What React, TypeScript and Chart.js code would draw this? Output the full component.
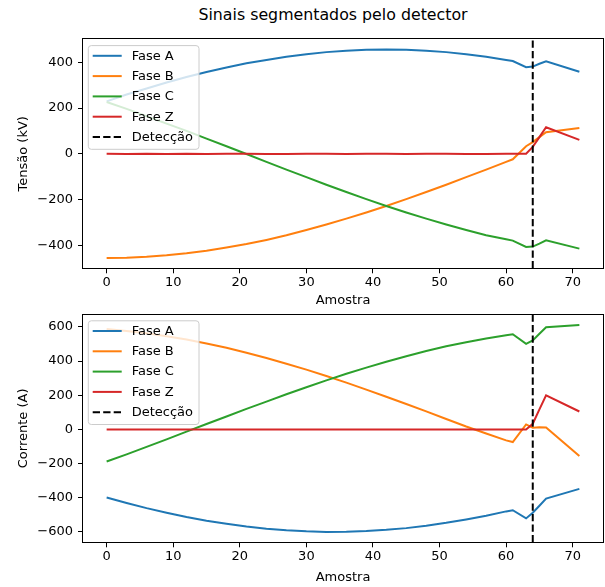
import React, { useEffect, useRef } from "react";
import { Chart, registerables } from "chart.js";

Chart.register(...registerables);

// ---- Data ----
const samples = [0, 3, 6, 9, 12, 15, 18, 21, 24, 27, 30, 33, 36, 39, 42, 45, 48, 51, 54, 57, 60, 61, 63, 64, 65, 66, 71];

// Tensão (kV)
const tensaoA = [229, 259, 285, 311, 335, 357, 377, 395, 410, 424, 435, 444, 450, 454, 455, 454, 450, 444, 435, 424, 410, 405, 378, 381, 393, 404, 358];
const tensaoB = [-455, -454, -450, -443, -434, -423, -409, -394, -376, -356, -333, -309, -283, -256, -228, -198, -167, -135, -102, -69, -35, -24, 33, 51, 73, 94, 113];
const tensaoC = [226, 196, 164, 132, 100, 66, 33, -1, -35, -69, -102, -135, -167, -198, -228, -256, -283, -309, -333, -356, -373, -379, -407, -405, -392, -378, -414];
const tensaoZ = [0, -1, 0, -1, 0, -1, 0, 0, -1, -1, 0, 0, -1, 0, 0, -1, 0, 0, -1, -1, 0, 0, 0, 30, 73, 116, 61];

// Corrente (A)
const correnteA = [-399, -431, -461, -488, -513, -535, -553, -569, -582, -591, -597, -600, -599, -595, -588, -578, -564, -547, -527, -505, -480, -473, -521, -488, -447, -405, -348];
const correnteB = [588, 577, 563, 546, 526, 503, 478, 449, 418, 385, 350, 313, 274, 233, 191, 149, 106, 61, 17, -24, -64, -74, 29, 10, 13, 12, -156];
const correnteC = [-188, -146, -102, -58, -13, 32, 76, 120, 163, 206, 247, 287, 326, 362, 396, 429, 459, 487, 511, 533, 552, 557, 501, 521, 560, 598, 612];
const correnteZ = [0, 0, 0, 0, 0, 0, 0, 0, 0, 0, 0, 0, 0, 0, 0, 0, 0, 0, 0, 0, 0, 0, 0, 33, 117, 200, 105];

const detectionSample = 64;

const seriesLabels = ["Fase A", "Fase B", "Fase C", "Fase Z"];
const detectionLabel = "Detecção";

const xTicks = [0, 10, 20, 30, 40, 50, 60, 70];
const tensaoTicks = [-400, -200, 0, 200, 400];
const correnteTicks = [-600, -400, -200, 0, 200, 400, 600];

const titleText = "Sinais segmentados pelo detector";
const xTitle = "Amostra";
const tensaoTitle = "Tensão (kV)";
const correnteTitle = "Corrente (A)";

// ---- Styling ----
const COLORS = ["#1f77b4", "#ff7f0e", "#2ca02c", "#d62728"];
const FONT = '"DejaVu Sans", "Liberation Sans", sans-serif';
const DASH = [7.3, 3.2];
const X_MIN = -3.55;
const X_MAX = 74.55;

const fmt = (v: number) => (v < 0 ? "\u2212" + Math.abs(v) : String(v));

function legendFramePlugin() {
  return {
    id: "legendFrame",
    afterDatasetsDraw(chart: any) {
      const { ctx, chartArea: a } = chart;
      ctx.save();
      // legend box
      const bx = a.left + 5.3;
      const by = a.top + 6.3;
      const bw = 110.7;
      const bh = 103.7;
      const r = 3;
      ctx.beginPath();
      ctx.moveTo(bx + r, by);
      ctx.lineTo(bx + bw - r, by);
      ctx.arcTo(bx + bw, by, bx + bw, by + r, r);
      ctx.lineTo(bx + bw, by + bh - r);
      ctx.arcTo(bx + bw, by + bh, bx + bw - r, by + bh, r);
      ctx.lineTo(bx + r, by + bh);
      ctx.arcTo(bx, by + bh, bx, by + bh - r, r);
      ctx.lineTo(bx, by + r);
      ctx.arcTo(bx, by, bx + r, by, r);
      ctx.closePath();
      ctx.fillStyle = "rgba(255,255,255,0.8)";
      ctx.fill();
      ctx.strokeStyle = "#cccccc";
      ctx.lineWidth = 1;
      ctx.stroke();

      const labels = [...seriesLabels, detectionLabel];
      const colors = [...COLORS, "#000000"];
      ctx.font = `13px ${FONT}`;
      ctx.textBaseline = "middle";
      ctx.textAlign = "left";
      labels.forEach((lab, i) => {
        const y = by + 10.2 + i * 20.3;
        ctx.beginPath();
        ctx.setLineDash(i === 4 ? DASH : []);
        ctx.strokeStyle = colors[i];
        ctx.lineWidth = 2;
        ctx.moveTo(bx + 4.4, y);
        ctx.lineTo(bx + 33.4, y);
        ctx.stroke();
        ctx.setLineDash([]);
        ctx.fillStyle = "#000";
        ctx.fillText(lab, bx + 43.4, y + 0.5);
      });

      // axes frame
      ctx.strokeStyle = "#000";
      ctx.lineWidth = 1;
      const l = Math.round(a.left) - 0.5;
      const t = Math.round(a.top) - 0.5;
      const rr = Math.round(a.right) + 0.5;
      const b = Math.round(a.bottom) + 0.5;
      ctx.strokeRect(l, t, rr - l, b - t);
      ctx.restore();
    },
  };
}

function makeConfig(
  series: number[][],
  yMin: number,
  yMax: number,
  yTicks: number[],
  yTitle: string,
  padTop: number,
  padBottom: number,
  xAxisHeight: number
): any {
  const datasets: any[] = series.map((vals, i) => ({
    label: seriesLabels[i],
    data: samples.map((x, j) => ({ x, y: vals[j] })),
    borderColor: COLORS[i],
    backgroundColor: COLORS[i],
    borderWidth: 2,
    pointRadius: 0,
    tension: 0,
    fill: false,
    order: 10 - i,
  }));
  datasets.push({
    label: detectionLabel,
    data: [
      { x: detectionSample, y: yMin },
      { x: detectionSample, y: yMax },
    ],
    borderColor: "#000",
    borderWidth: 2,
    borderDash: DASH,
    pointRadius: 0,
    fill: false,
    order: 0,
  });

  return {
    type: "line",
    data: { datasets },
    options: {
      animation: false,
      responsive: false,
      devicePixelRatio: 1,
      layout: { padding: { left: 0, right: 2, top: padTop, bottom: padBottom } },
      plugins: {
        legend: { display: false },
        tooltip: { enabled: false },
        title: { display: false },
      },
      scales: {
        x: {
          type: "linear",
          min: X_MIN,
          max: X_MAX,
          afterBuildTicks: (s: any) => {
            s.ticks = xTicks.map((v) => ({ value: v }));
          },
          afterFit: (s: any) => {
            s.height = xAxisHeight;
            s.paddingLeft = 0;
            s.paddingRight = 0;
          },
          ticks: {
            color: "#000",
            font: { family: FONT, size: 13 },
            padding: 2,
            maxRotation: 0,
            autoSkip: false,
            callback: (v: any) => fmt(Number(v)),
          },
          grid: { display: true, drawOnChartArea: false, drawTicks: true, tickLength: 5, color: "#000", lineWidth: 1 },
          border: { display: false },
          title: {
            display: true,
            text: xTitle,
            color: "#000",
            font: { family: FONT, size: 13 },
            padding: { top: 0, bottom: 0 },
          },
        },
        y: {
          type: "linear",
          min: yMin,
          max: yMax,
          afterBuildTicks: (s: any) => {
            s.ticks = yTicks.map((v) => ({ value: v }));
          },
          afterFit: (s: any) => {
            s.width = 83;
            s.paddingTop = 0;
            s.paddingBottom = 0;
          },
          ticks: {
            color: "#000",
            font: { family: FONT, size: 13 },
            padding: 5,
            autoSkip: false,
            callback: (v: any) => fmt(Number(v)),
          },
          grid: { display: true, drawOnChartArea: false, drawTicks: true, tickLength: 5, color: "#000", lineWidth: 1 },
          border: { display: false },
          title: {
            display: true,
            text: yTitle,
            color: "#000",
            font: { family: FONT, size: 13 },
            padding: { top: 16, bottom: 0 },
          },
        },
      },
    },
    plugins: [legendFramePlugin()],
  };
}

export default function App() {
  const topRef = useRef<HTMLCanvasElement | null>(null);
  const botRef = useRef<HTMLCanvasElement | null>(null);

  useEffect(() => {
    const c1 = new Chart(
      topRef.current as HTMLCanvasElement,
      makeConfig([tensaoA, tensaoB, tensaoC, tensaoZ], -500, 500, tensaoTicks, tensaoTitle, 39.3, 1.7, 40)
    );
    const c2 = new Chart(
      botRef.current as HTMLCanvasElement,
      makeConfig([correnteA, correnteB, correnteC, correnteZ], -661, 673, correnteTicks, correnteTitle, 4.5, 1.2, 43.5)
    );
    return () => {
      c1.destroy();
      c2.destroy();
    };
  }, []);

  return (
    <div style={{ position: "absolute", left: 0, top: 0, width: 605, height: 587, background: "#fff", overflow: "hidden" }}>
      <div
        style={{
          position: "absolute",
          left: 0,
          top: 5,
          width: 666,
          textAlign: "center",
          fontFamily: FONT,
          fontSize: "15.8px",
          lineHeight: "20px",
          color: "#000",
          whiteSpace: "nowrap",
        }}
      >
        {titleText}
      </div>
      <canvas ref={topRef} width={605} height={310} style={{ position: "absolute", left: 0, top: 0, width: 605, height: 310 }} />
      <canvas ref={botRef} width={605} height={277} style={{ position: "absolute", left: 0, top: 310, width: 605, height: 277 }} />
    </div>
  );
}
